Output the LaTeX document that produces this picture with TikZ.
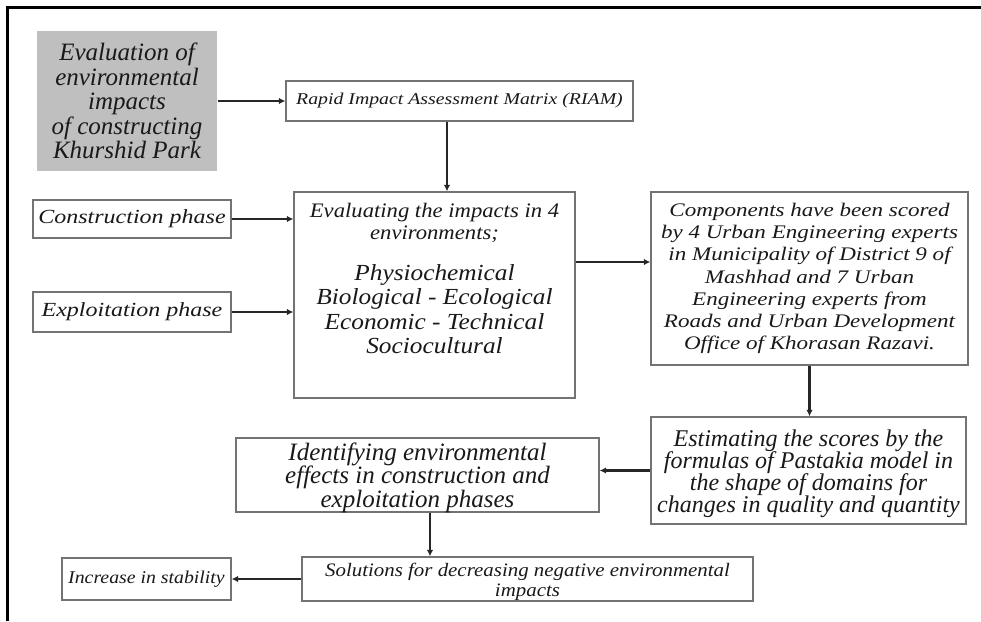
\documentclass[tikz,border=0pt]{standalone}
\usepackage{fontspec}
\setmainfont{Liberation Serif}
\newfontfamily\fwA{Liberation Serif}[FakeStretch=1.2]
\newfontfamily\fwB{Liberation Serif}[FakeStretch=1.1]
\newfontfamily\fwC{Liberation Serif}[FakeStretch=1.0]
\usetikzlibrary{arrows.meta,calc}
\newcommand\myfs[2]{\fontsize{#1}{#2}\selectfont\itshape\lineskiplimit=-100pt\relax}
\begin{document}
\begin{tikzpicture}[x=1pt,y=-1pt,
  box/.style={draw=black!55, line width=1.3pt, inner sep=0pt, align=center, fill=white, text=black!90},
  txt/.style={inner sep=0pt, align=center, text=black!90},
  arr/.style={draw=black!85, line width=2.8pt, -{Latex[length=6.5pt,width=6.5pt]}}]
\useasboundingbox (0,0) rectangle (981,621);
\draw[line width=2.2pt] (7.5,621) -- (7.5,7.5) -- (981,7.5);

% nodes
\node[box, draw=none, fill=black!25, minimum width=180pt, minimum height=140pt, font=\fwC\myfs{25}{24.5}]
  (gray) at (127,101) {Evaluation of\\environmental\\impacts\\of constructing\\Khurshid Park};
\node[box, minimum width=347pt, minimum height=40pt, font=\fwA\myfs{16.5}{18}]
  (riam) at (459.5,101) {Rapid Impact Assessment Matrix (RIAM)};
\node[box, minimum width=198pt, minimum height=38pt, font=\fwA\myfs{20}{22}]
  (cons) at (132,219) {Construction phase};
\node[box, minimum width=198pt, minimum height=40pt, font=\fwA\myfs{20}{22}]
  (expl) at (132,312) {Exploitation phase};
\node[box, minimum width=281pt, minimum height=206pt] (eval) at (434.5,295) {};
\node[txt, font=\fwB\myfs{20.6}{22.5}] (evalA) at (434.5,223) {Evaluating the impacts in 4\\environments;};
\node[txt, font=\fwB\myfs{23}{24.5}] (evalB) at (434.5,309) {Physiochemical\\Biological - Ecological\\Economic - Technical\\Sociocultural};
\node[box, minimum width=317pt, minimum height=173pt, font=\fwA\myfs{19.2}{22.2}]
  (comp) at (809.5,278.5) {Components have been scored\\by 4 Urban Engineering experts\\in Municipality of District 9 of\\Mashhad and 7 Urban\\Engineering experts from\\Roads and Urban Development\\Office of Khorasan Razavi.};
\node[box, minimum width=315pt, minimum height=107pt] (est) at (808.5,470.5) {};
\node[txt, font=\fwC\myfs{24}{22}] (estT) at (808.5,474) {Estimating the scores by the\\formulas of Pastakia model in\\the shape of domains for\\changes in quality and quantity};
\node[box, minimum width=363pt, minimum height=74pt] (ident) at (417.5,475) {};
\node[txt, font=\fwC\myfs{25}{23.5}] (identT) at (417.5,477.5) {Identifying environmental\\effects in construction and\\exploitation phases};
\node[box, minimum width=451pt, minimum height=44pt] (sol) at (527.5,579) {};
\node[txt, font=\fwB\myfs{19}{20}] (solT) at (527.5,581.5) {Solutions for decreasing negative environmental\\impacts};
\node[box, minimum width=169pt, minimum height=42pt, font=\fwB\myfs{18}{20}]
  (inc) at (146.5,579) {Increase in stability};

% connectors
\draw[arr] (gray.east |- riam.west) -- (riam.west);
\draw[arr] ([xshift=-12.5pt]riam.south) -- ([xshift=-12.5pt]riam.south |- eval.north);
\draw[arr] (cons.east) -- (cons.east -| eval.west);
\draw[arr] (expl.east) -- (expl.east -| eval.west);
\coordinate (ce) at ([yshift=16.5pt]comp.west);
\draw[arr] (eval.east |- ce) -- (ce);
\draw[arr] (comp.south) -- (comp.south |- est.north);
\draw[arr] (est.west) -- (est.west -| ident.east);
\draw[arr] ([xshift=12.5pt]ident.south) -- ([xshift=12.5pt]ident.south |- sol.north);
\draw[arr] (sol.west) -- (sol.west -| inc.east);
\end{tikzpicture}
\end{document}
